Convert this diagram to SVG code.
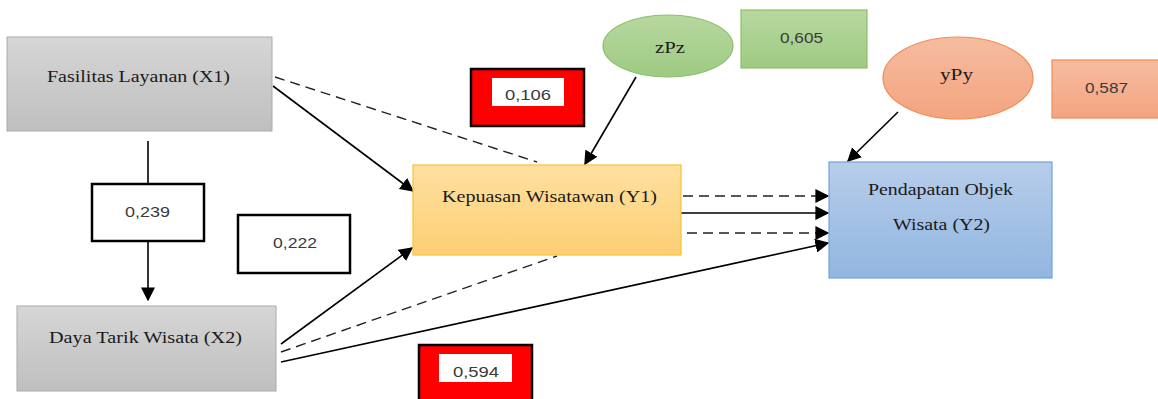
<svg xmlns="http://www.w3.org/2000/svg" width="1158" height="399" viewBox="0 0 1158 399">
<defs>
<linearGradient id="gGray" x1="0" y1="0" x2="0" y2="1"><stop offset="0" stop-color="#d6d6d6"/><stop offset="1" stop-color="#bfbfbf"/></linearGradient>
<linearGradient id="gGold" x1="0" y1="0" x2="0" y2="1"><stop offset="0" stop-color="#fee0a0"/><stop offset="1" stop-color="#fdcf75"/></linearGradient>
<linearGradient id="gBlue" x1="0" y1="0" x2="0" y2="1"><stop offset="0" stop-color="#b7cdea"/><stop offset="1" stop-color="#92b6e0"/></linearGradient>
<linearGradient id="gGreen" x1="0" y1="0" x2="0" y2="1"><stop offset="0" stop-color="#b7d8a0"/><stop offset="1" stop-color="#9fca82"/></linearGradient>
<linearGradient id="gOrange" x1="0" y1="0" x2="0" y2="1"><stop offset="0" stop-color="#f6bca0"/><stop offset="1" stop-color="#f3a47f"/></linearGradient>
<marker id="ahb" viewBox="0 0 10 10" refX="9" refY="5" markerWidth="14" markerHeight="14" markerUnits="userSpaceOnUse" orient="auto"><path d="M0,0 L10,5 L0,10 z" fill="#000"/></marker>
</defs>
<style>
.lbl{font-family:"Liberation Serif",serif;font-size:16px;fill:#1a1a1a}
.num{font-family:"Liberation Sans",sans-serif;font-size:15px;fill:#3a3a3a}
.ln{stroke:#000;stroke-width:1.6;fill:none}
.dash{stroke:#222;stroke-width:1.4;fill:none;stroke-dasharray:10 6}
.wb{fill:#fff;stroke:#000;stroke-width:2.5}
.rb{fill:#ff0000;stroke:#000;stroke-width:2.5}
</style>
<g id="connectors">
<line class="ln" x1="148" y1="141" x2="148" y2="183"/>
<line class="ln" x1="148" y1="241" x2="148" y2="300" marker-end="url(#ahb)"/>
<line class="ln" x1="273" y1="86" x2="413" y2="191" marker-end="url(#ahb)"/>
<line class="dash" x1="275" y1="77" x2="537" y2="162"/>
<line class="ln" x1="636" y1="77" x2="585" y2="164" marker-end="url(#ahb)"/>
<line class="ln" x1="898" y1="112" x2="848" y2="161" marker-end="url(#ahb)"/>
<line class="dash" x1="683" y1="196" x2="828" y2="196" marker-end="url(#ahb)"/>
<line class="ln" x1="681" y1="213" x2="828" y2="213" marker-end="url(#ahb)"/>
<line class="dash" x1="687" y1="233" x2="828" y2="233" marker-end="url(#ahb)"/>
<line class="ln" x1="281" y1="344" x2="412" y2="248" marker-end="url(#ahb)"/>
<line class="dash" x1="281" y1="352" x2="557" y2="256"/>
<line class="ln" x1="281" y1="362" x2="828" y2="243" marker-end="url(#ahb)"/>
</g>
<g id="x1"><rect x="7" y="37" width="265" height="94" fill="url(#gGray)" stroke="#aaa" stroke-width="1"/><text class="lbl" x="47" y="82" textLength="183" lengthAdjust="spacingAndGlyphs">Fasilitas Layanan  (X1)</text></g>
<g id="x2"><rect x="17" y="306" width="259" height="85" fill="url(#gGray)" stroke="#aaa" stroke-width="1"/><text class="lbl" x="49" y="343" textLength="193" lengthAdjust="spacingAndGlyphs">Daya  Tarik Wisata (X2)</text></g>
<g id="y1"><rect x="413" y="165" width="268" height="90" fill="url(#gGold)" stroke="#f7c431" stroke-width="1.2"/><text class="lbl" x="442" y="202" textLength="215" lengthAdjust="spacingAndGlyphs">Kepuasan  Wisatawan  (Y1)</text></g>
<g id="y2"><rect x="829" y="162" width="223" height="116" fill="url(#gBlue)" stroke="#6fa3da" stroke-width="1.2"/><text class="lbl" x="868" y="195" textLength="145" lengthAdjust="spacingAndGlyphs">Pendapatan  Objek</text><text class="lbl" x="893" y="230" textLength="97" lengthAdjust="spacingAndGlyphs">Wisata (Y2)</text></g>
<g id="zpz"><ellipse cx="668" cy="46" rx="65" ry="31" fill="url(#gGreen)" stroke="#8cc06a" stroke-width="1.2"/><text class="lbl" x="655" y="53" textLength="30" lengthAdjust="spacingAndGlyphs">zPz</text></g>
<g id="v605"><rect x="741" y="10" width="126" height="58" fill="url(#gGreen)" stroke="#8cc06a" stroke-width="1.2"/><text class="num" x="780" y="43" textLength="43" lengthAdjust="spacingAndGlyphs">0,605</text></g>
<g id="ypy"><ellipse cx="958" cy="78" rx="75" ry="41" fill="url(#gOrange)" stroke="#f08c55" stroke-width="1.2"/><text class="lbl" x="940" y="80" textLength="33" lengthAdjust="spacingAndGlyphs">yPy</text></g>
<g id="v587"><rect x="1052" y="60" width="110" height="58" fill="url(#gOrange)" stroke="#f08c55" stroke-width="1.2"/><text class="num" x="1085" y="93" textLength="43" lengthAdjust="spacingAndGlyphs">0,587</text></g>
<g id="v106"><rect class="rb" x="471" y="69" width="113" height="57"/><rect x="492" y="78" width="72" height="28" fill="#fff"/><text class="num" x="505" y="100" textLength="46" lengthAdjust="spacingAndGlyphs">0,106</text></g>
<g id="v594"><rect class="rb" x="419" y="345" width="113" height="60"/><rect x="439" y="354" width="73" height="28" fill="#fff"/><text class="num" x="453" y="377" textLength="46" lengthAdjust="spacingAndGlyphs">0,594</text></g>
<g id="v239"><rect class="wb" x="92" y="184" width="112" height="57"/><text class="num" x="125" y="217" textLength="45" lengthAdjust="spacingAndGlyphs">0,239</text></g>
<g id="v222"><rect class="wb" x="238" y="215" width="112" height="58"/><text class="num" x="273" y="248" textLength="44" lengthAdjust="spacingAndGlyphs">0,222</text></g>
</svg>
